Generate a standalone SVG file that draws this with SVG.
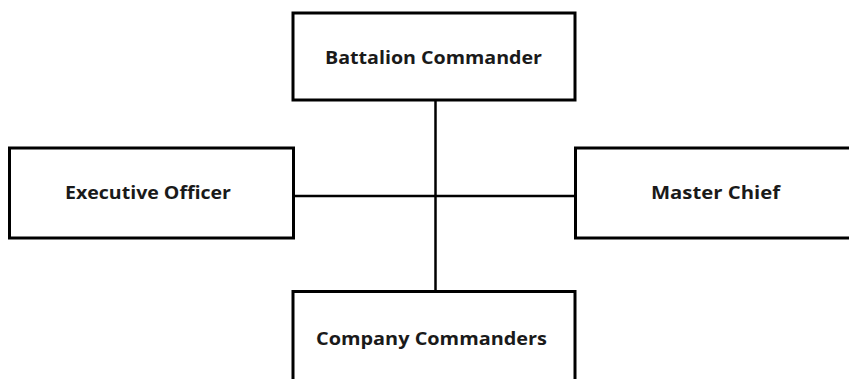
<svg xmlns="http://www.w3.org/2000/svg" width="849" height="379" viewBox="0 0 849 379">
<style>
.box{fill:#fff;stroke:#000;stroke-width:3}
.lbl{font-family:"Open Sans","Liberation Sans",sans-serif;font-weight:bold;font-size:17.5px;fill:#1a1a1a;text-anchor:middle;dominant-baseline:central}
.conn{stroke:#000;stroke-width:2.5;fill:none}
</style>
<rect width="849" height="379" fill="#fff"/>
<g id="connectors">
<line class="conn" x1="435.5" y1="100" x2="435.5" y2="291"/>
<line class="conn" x1="294" y1="196" x2="576" y2="196"/>
</g>
<g id="battalion-commander">
<rect class="box" x="293" y="13" width="282" height="87"/>
<text class="lbl" x="433.5" y="57" textLength="217" lengthAdjust="spacingAndGlyphs">Battalion Commander</text>
</g>
<g id="executive-officer">
<rect class="box" x="9.5" y="148" width="284" height="90"/>
<text class="lbl" x="148" y="192" textLength="166" lengthAdjust="spacingAndGlyphs">Executive Officer</text>
</g>
<g id="master-chief">
<rect class="box" x="575.5" y="148" width="280" height="90"/>
<text class="lbl" x="715.5" y="192" textLength="129" lengthAdjust="spacingAndGlyphs">Master Chief</text>
</g>
<g id="company-commanders">
<rect class="box" x="293" y="291.5" width="282" height="100"/>
<text class="lbl" x="431.5" y="338" textLength="231" lengthAdjust="spacingAndGlyphs">Company Commanders</text>
</g>
</svg>
